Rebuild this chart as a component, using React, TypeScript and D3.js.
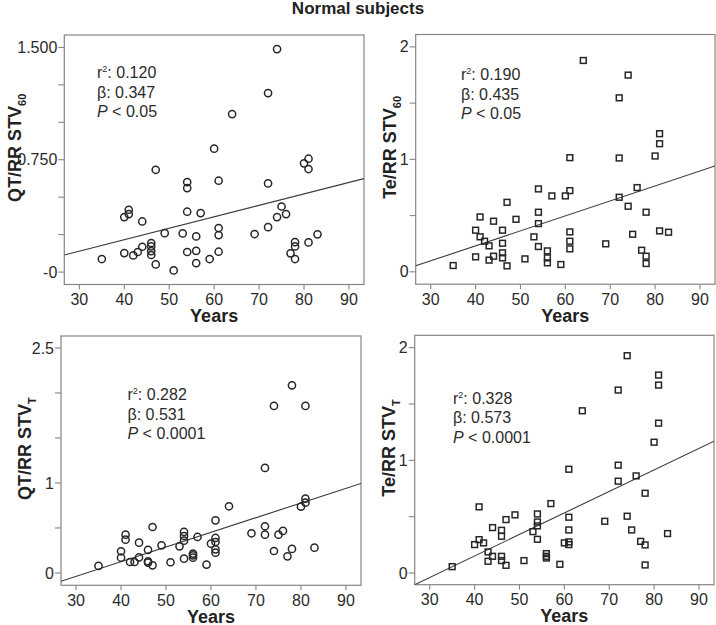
import React from "react";
import * as d3 from "d3";

// ---------- DATA ----------
const title = "Normal subjects";
const xTickValues = [30, 40, 50, 60, 70, 80, 90];
const xAxisTitle = "Years";

// Panel A: QT/RR STV60
const agesA = [35, 40, 40, 41, 41, 42, 43, 44, 44, 46, 46, 46, 46, 47, 47, 49, 51, 53, 54, 54, 54, 54, 56, 56, 56, 57, 59, 60, 61, 61, 61, 61, 64, 69, 72, 72, 72, 74, 74, 75, 76, 77, 78, 78, 78, 80, 81, 81, 81, 83];
const valuesA = [0.087, 0.127, 0.367, 0.416, 0.387, 0.111, 0.134, 0.338, 0.169, 0.194, 0.171, 0.14, 0.114, 0.683, 0.051, 0.26, 0.011, 0.258, 0.601, 0.561, 0.403, 0.134, 0.238, 0.142, 0.06, 0.394, 0.087, 0.824, 0.61, 0.294, 0.247, 0.136, 1.055, 0.254, 1.195, 0.592, 0.3, 1.489, 0.367, 0.438, 0.387, 0.125, 0.2, 0.171, 0.087, 0.726, 0.757, 0.688, 0.198, 0.252];
const fitA = [-0.09, 0.00765]; // intercept, slope
const statsA = ["0.120", "0.347", "0.05"];
const yTicksA = [0, 0.25, 0.5, 0.75, 1, 1.25, 1.5];
const yLabelsA = [["-0", 0], ["0.750", 0.75], ["1.500", 1.5]];

// Panel B: Te/RR STV60
const agesB = [35, 40, 40, 41, 41, 42, 43, 43, 44, 44, 46, 46, 46, 46, 47, 47, 49, 51, 53, 54, 54, 54, 54, 56, 56, 56, 57, 59, 60, 61, 61, 61, 61, 61, 64, 69, 72, 72, 72, 74, 74, 75, 76, 77, 78, 78, 78, 80, 81, 81, 81, 83];
const valuesB = [0.056, 0.37, 0.133, 0.488, 0.311, 0.272, 0.231, 0.104, 0.45, 0.139, 0.37, 0.254, 0.169, 0.124, 0.618, 0.053, 0.467, 0.115, 0.311, 0.737, 0.53, 0.429, 0.225, 0.186, 0.124, 0.08, 0.675, 0.065, 0.675, 1.015, 0.722, 0.355, 0.272, 0.204, 1.879, 0.249, 1.547, 1.012, 0.663, 1.749, 0.583, 0.334, 0.749, 0.192, 0.53, 0.139, 0.074, 1.03, 1.228, 1.139, 0.364, 0.352];
const fitB = [-0.301, 0.0133];
const statsB = ["0.190", "0.435", "0.05"];
const yTicksB = [0, 0.5, 1, 1.5, 2];
const yLabelsB = [["0", 0], ["1", 1], ["2", 2]];

// Panel C: QT/RR STVT
const agesC = [35, 40, 40, 41, 41, 42, 43, 44, 44, 46, 46, 46, 47, 47, 49, 51, 53, 54, 54, 54, 54, 56, 56, 56, 57, 59, 60, 61, 61, 61, 61, 61, 64, 69, 72, 72, 72, 74, 74, 75, 76, 77, 78, 78, 80, 81, 81, 81, 83];
const valuesC = [0.078, 0.241, 0.17, 0.426, 0.37, 0.122, 0.122, 0.337, 0.174, 0.256, 0.13, 0.115, 0.511, 0.085, 0.307, 0.119, 0.296, 0.456, 0.411, 0.359, 0.159, 0.215, 0.196, 0.17, 0.4, 0.093, 0.326, 0.585, 0.389, 0.344, 0.263, 0.226, 0.741, 0.441, 1.167, 0.519, 0.426, 1.856, 0.244, 0.426, 0.467, 0.185, 2.085, 0.267, 0.737, 1.856, 0.826, 0.781, 0.281];
const fitC = [-0.526, 0.01629];
const statsC = ["0.282", "0.531", "0.0001"];
const yTicksC = [0, 0.5, 1, 1.5, 2, 2.5];
const yLabelsC = [["0", 0], ["1", 1], ["2.5", 2.5]];

// Panel D: Te/RR STVT
const agesD = [35, 40, 41, 41, 42, 43, 43, 44, 44, 46, 46, 46, 46, 47, 47, 49, 51, 53, 54, 54, 54, 54, 56, 56, 56, 57, 59, 60, 61, 61, 61, 61, 61, 64, 69, 72, 72, 72, 74, 74, 75, 76, 77, 78, 78, 78, 80, 81, 81, 81, 83];
const valuesD = [0.056, 0.252, 0.587, 0.296, 0.267, 0.187, 0.104, 0.403, 0.148, 0.379, 0.326, 0.148, 0.11, 0.474, 0.068, 0.516, 0.11, 0.367, 0.524, 0.453, 0.418, 0.299, 0.172, 0.148, 0.133, 0.616, 0.077, 0.267, 0.921, 0.495, 0.382, 0.276, 0.252, 1.44, 0.459, 1.624, 0.957, 0.815, 1.929, 0.504, 0.382, 0.862, 0.281, 0.708, 0.249, 0.071, 1.161, 1.757, 1.668, 1.33, 0.35];
const fitD = [-0.613, 0.0191];
const statsD = ["0.328", "0.573", "0.0001"];
const yTicksD = [0, 0.5, 1, 1.5, 2];
const yLabelsD = [["0", 0], ["1", 1], ["2", 2]];

// ---------- LAYOUT ----------
const FONT = "Arial, 'Liberation Sans', Helvetica, sans-serif";
const X_DOMAIN = [26.65, 93.35];

type Panel = {
  ages: number[]; values: number[]; fit: number[]; stats: string[];
  yTicks: number[]; yLabels: (string | number)[][];
  yMain: string; ySub: string; marker: "circle" | "square";
  left: number; top: number; width: number; height: number;
  yDomain: number[]; yTitleX: number; statX: number; statY: number;
};

const panels: Panel[] = [
  { ages: agesA, values: valuesA, fit: fitA, stats: statsA, yTicks: yTicksA, yLabels: yLabelsA,
    yMain: "QT/RR STV", ySub: "60", marker: "circle",
    left: 64.3, top: 35, width: 299.7, height: 249.5, yDomain: [-0.083, 1.583],
    yTitleX: 21, statX: 97, statY: 78 },
  { ages: agesB, values: valuesB, fit: fitB, stats: statsB, yTicks: yTicksB, yLabels: yLabelsB,
    yMain: "Te/RR STV", ySub: "60", marker: "square",
    left: 415.7, top: 34.5, width: 299.3, height: 249.7, yDomain: [-0.11, 2.11],
    yTitleX: 396, statX: 461, statY: 80 },
  { ages: agesC, values: valuesC, fit: fitC, stats: statsC, yTicks: yTicksC, yLabels: yLabelsC,
    yMain: "QT/RR STV", ySub: "T", marker: "circle",
    left: 61, top: 336, width: 300, height: 249.3, yDomain: [-0.137, 2.633],
    yTitleX: 31, statX: 127.5, statY: 400 },
  { ages: agesD, values: valuesD, fit: fitD, stats: statsD, yTicks: yTicksD, yLabels: yLabelsD,
    yMain: "Te/RR STV", ySub: "T", marker: "square",
    left: 414.7, top: 335.3, width: 299.3, height: 249.4, yDomain: [-0.104, 2.11],
    yTitleX: 395, statX: 453, statY: 403.5 },
];

const BOX = "#858585";
const TEXT = "#2b2b2b";
const MARK = "#262626";

function PanelView({ p, idx }: { p: Panel; idx: number }) {
  const x = d3.scaleLinear().domain(X_DOMAIN).range([p.left, p.left + p.width]);
  const y = d3.scaleLinear().domain(p.yDomain).range([p.top + p.height, p.top]);
  const bottom = p.top + p.height;
  const clipId = `clip${idx}`;
  const line = d3.line<number>().x((d) => x(d)).y((d) => y(p.fit[0] + p.fit[1] * d));
  const lineD = line(X_DOMAIN) || "";
  const cy = p.top + p.height / 2 - 12;
  return (
    <g>
      <defs>
        <clipPath id={clipId}>
          <rect x={p.left} y={p.top} width={p.width} height={p.height} />
        </clipPath>
      </defs>
      <rect x={p.left} y={p.top} width={p.width} height={p.height} fill="none" stroke={BOX} strokeWidth={1.2} />
      {p.yTicks.map((t) => (
        <line key={"yt" + t} x1={p.left - 6} x2={p.left} y1={y(t)} y2={y(t)} stroke={BOX} strokeWidth={1.1} />
      ))}
      {p.yLabels.map(([txt, v]) => (
        <text key={"yl" + txt} x={p.left - 7} y={y(v as number)} dy="0.35em" textAnchor="end"
          fontFamily={FONT} fontSize={16} fill={TEXT}>{txt}</text>
      ))}
      {xTickValues.map((t) => (
        <g key={"xt" + t}>
          <line x1={x(t)} x2={x(t)} y1={bottom} y2={bottom + 5} stroke={BOX} strokeWidth={1.1} />
          <text x={x(t)} y={bottom + 20.5} textAnchor="middle" fontFamily={FONT} fontSize={16} fill={TEXT}>{t}</text>
        </g>
      ))}
      <text x={p.left + p.width / 2} y={bottom + 37.5} textAnchor="middle" fontFamily={FONT}
        fontSize={18} fontWeight="bold" fill="#222">{xAxisTitle}</text>
      <text transform={`translate(${p.yTitleX},${cy}) rotate(-90)`} textAnchor="middle" fontFamily={FONT}
        fontSize={18} fontWeight="bold" fill="#222">
        {p.yMain}
        <tspan fontSize={11} dy={5}>{p.ySub}</tspan>
      </text>
      <path d={lineD} fill="none" stroke="#3a3a3a" strokeWidth={1.1} clipPath={`url(#${clipId})`} />
      {p.ages.map((a, i) =>
        p.marker === "circle" ? (
          <circle key={i} cx={x(a)} cy={y(p.values[i])} r={3.6} fill="none" stroke={MARK} strokeWidth={1.5} />
        ) : (
          <rect key={i} x={x(a) - 2.9} y={y(p.values[i]) - 2.9} width={5.8} height={5.8} fill="none"
            stroke={MARK} strokeWidth={1.5} />
        )
      )}
      <text x={p.statX} y={p.statY} fontFamily={FONT} fontSize={16} fill={TEXT}>
        r<tspan fontSize={9} dy={-6}>2</tspan><tspan dy={6}>: {p.stats[0]}</tspan>
      </text>
      <text x={p.statX} y={p.statY + 19.5} fontFamily={FONT} fontSize={16} fill={TEXT}>
        {"\u03B2: " + p.stats[1]}
      </text>
      <text x={p.statX} y={p.statY + 39} fontFamily={FONT} fontSize={16} fill={TEXT}>
        <tspan fontStyle="italic">P</tspan>{" < " + p.stats[2]}
      </text>
    </g>
  );
}

export default function App() {
  return (
    <svg width={716} height={625} style={{ position: "absolute", left: 0, top: 0, background: "#fff" }}>
      <rect x={0} y={0} width={716} height={625} fill="#fff" />
      <text x={358} y={14} textAnchor="middle" fontFamily={FONT} fontSize={17} fontWeight="bold" fill="#222">
        {title}
      </text>
      {panels.map((p, i) => (
        <PanelView key={i} p={p} idx={i} />
      ))}
    </svg>
  );
}
